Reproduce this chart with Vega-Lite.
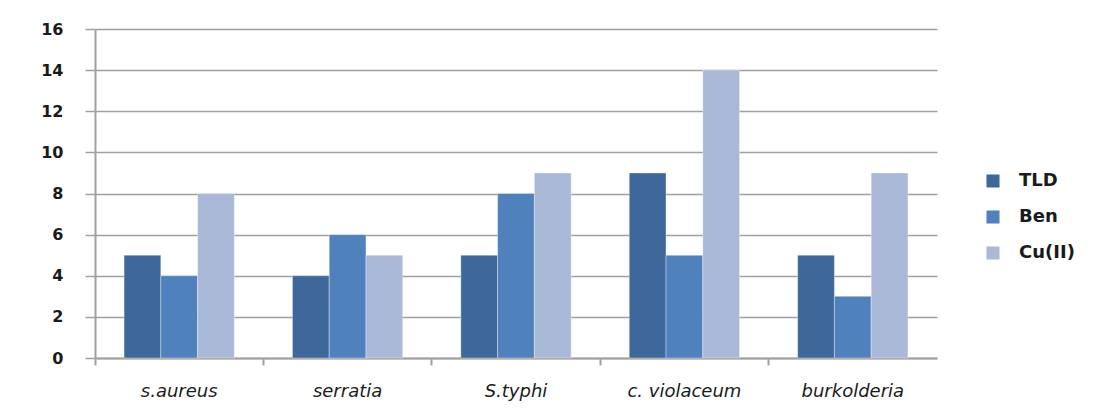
{
  "$schema": "https://vega.github.io/schema/vega-lite/v6.json",
  "width": 842,
  "height": 329,
  "autosize": {"type": "none"},
  "padding": {"left": 95, "top": 29, "right": 179, "bottom": 54},
  "background": "white",
  "data": {
    "values": [
      {"organism": "s.aureus", "series": "TLD", "value": 5},
      {"organism": "s.aureus", "series": "Ben", "value": 4},
      {"organism": "s.aureus", "series": "Cu(II)", "value": 8},
      {"organism": "serratia", "series": "TLD", "value": 4},
      {"organism": "serratia", "series": "Ben", "value": 6},
      {"organism": "serratia", "series": "Cu(II)", "value": 5},
      {"organism": "S.typhi", "series": "TLD", "value": 5},
      {"organism": "S.typhi", "series": "Ben", "value": 8},
      {"organism": "S.typhi", "series": "Cu(II)", "value": 9},
      {"organism": "c. violaceum", "series": "TLD", "value": 9},
      {"organism": "c. violaceum", "series": "Ben", "value": 5},
      {"organism": "c. violaceum", "series": "Cu(II)", "value": 14},
      {"organism": "burkolderia", "series": "TLD", "value": 5},
      {"organism": "burkolderia", "series": "Ben", "value": 3},
      {"organism": "burkolderia", "series": "Cu(II)", "value": 9}
    ]
  },
  "mark": {"type": "bar", "stroke": "#ffffff", "strokeWidth": 0.8, "strokeOpacity": 0.45},
  "encoding": {
    "x": {
      "field": "organism",
      "type": "nominal",
      "sort": ["s.aureus", "serratia", "S.typhi", "c. violaceum", "burkolderia"],
      "scale": {"paddingInner": 0.345, "paddingOuter": 0.1725},
      "axis": {
        "title": null,
        "labelAngle": 0,
        "bandPosition": -0.263,
        "labelFont": "DejaVu Sans",
        "labelFontStyle": "italic",
        "labelFontSize": 18,
        "labelColor": "#1a1a1a",
        "labelPadding": 17,
        "tickSize": 7,
        "tickColor": "#a0a0a0",
        "tickWidth": 2,
        "domainColor": "#a0a0a0",
        "domainWidth": 2,
        "grid": false
      }
    },
    "xOffset": {
      "field": "series",
      "type": "nominal",
      "sort": ["TLD", "Ben", "Cu(II)"],
      "scale": {"paddingInner": 0, "paddingOuter": 0}
    },
    "y": {
      "field": "value",
      "type": "quantitative",
      "scale": {"domain": [0, 16], "nice": false},
      "axis": {
        "title": null,
        "values": [0, 2, 4, 6, 8, 10, 12, 14, 16],
        "labelFont": "DejaVu Sans",
        "labelFontWeight": "bold",
        "labelFontSize": 16,
        "labelColor": "#1a1a1a",
        "labelPadding": 22,
        "tickSize": 10,
        "tickColor": "#a0a0a0",
        "tickWidth": 1.5,
        "domainColor": "#a0a0a0",
        "domainWidth": 2,
        "grid": true,
        "gridColor": "#a0a0a0",
        "gridWidth": 1.5
      }
    },
    "color": {
      "field": "series",
      "type": "nominal",
      "sort": ["TLD", "Ben", "Cu(II)"],
      "scale": {"domain": ["TLD", "Ben", "Cu(II)"], "range": ["#3E6899", "#4F81BD", "#AAB9D7"]},
      "legend": {
        "title": null,
        "orient": "none",
        "legendX": 889,
        "legendY": 143,
        "symbolType": "square",
        "symbolSize": 170,
        "symbolStrokeWidth": 0,
        "labelFont": "DejaVu Sans",
        "labelFontWeight": "bold",
        "labelFontSize": 18,
        "labelColor": "#1a1a1a",
        "labelOffset": 17,
        "rowPadding": 18
      }
    }
  },
  "config": {"view": {"stroke": null}}
}
